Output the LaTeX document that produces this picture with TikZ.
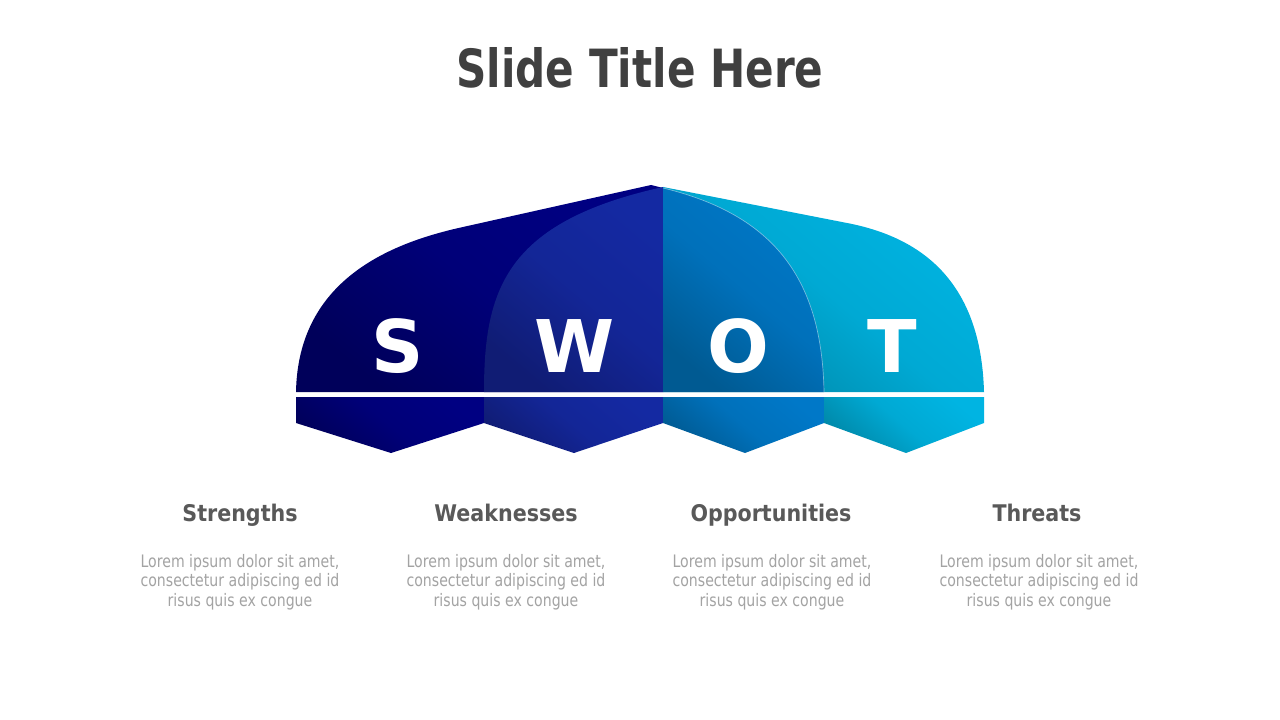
\documentclass[tikz,border=0pt]{standalone}
\usepackage{fontspec}
\setmainfont{DejaVu Sans}
\newfontfamily\titlefont{DejaVu Sans}[FakeStretch=0.8]
\newfontfamily\headfont{DejaVu Sans}[FakeStretch=0.9]
\newfontfamily\bodyfont{DejaVu Sans}[FakeStretch=0.82]
\definecolor{titlegray}{HTML}{404040}
\definecolor{headgray}{HTML}{595959}
\definecolor{bodygray}{HTML}{A3A3A3}
\definecolor{sLight}{HTML}{000082}
\definecolor{sDark}{HTML}{00005A}
\definecolor{wLight}{HTML}{1429A2}
\definecolor{wDark}{HTML}{101C74}
\definecolor{oLight}{HTML}{0078C8}
\definecolor{oDark}{HTML}{005A92}
\definecolor{tLight}{HTML}{00B4E2}
\definecolor{tDark}{HTML}{0088A8}
\tikzset{
  titletext/.style={font=\titlefont\bfseries\fontsize{39.5}{44}\selectfont, text=titlegray, inner sep=0pt, anchor=base},
  headtext/.style={font=\headfont\bfseries\fontsize{17.2}{20}\selectfont, text=headgray, inner sep=0pt, anchor=base},
  bodytext/.style={font=\bodyfont\fontsize{12.9}{14.6}\selectfont, text=bodygray, inner sep=0pt, anchor=base},
  lettertext/.style={font=\bfseries\fontsize{54.5}{60}\selectfont, text=white, inner sep=0pt, anchor=base},
  piece/.style={top color=#1Light, bottom color=#1Dark, middle color=#1Light!75!#1Dark, shading angle=-40, draw=none},
}
\begin{document}
\begin{tikzpicture}[x=0.75pt,y=-0.75pt]
\useasboundingbox (0,0) rectangle (1280,720);
\fill[white] (0,0) rectangle (1280,720);

% upper canopy pieces
\shade[piece=s] (296,392) .. controls (298,280) and (390,243) .. (463,227)
   -- (651,185) -- (663,188) -- (663,392) -- cycle;
\shade[piece=t] (663,187) -- (847,223) .. controls (920,237) and (981,280) .. (984,392)
   -- (663,392) -- cycle;
\shade[piece=w] (484,392) .. controls (484,290) and (505,222) .. (663,187)
   -- (663,392) -- cycle;
\shade[piece=o] (663,188) .. controls (775,215) and (822,280) .. (824,392)
   -- (663,392) -- cycle;
\draw[white, opacity=0.45, line width=0.5pt] (663,188) .. controls (775,215) and (822,280) .. (824,392);

% lower valance pieces
\shade[piece=s] (296,397) -- (484,397) -- (484,423) -- (391,453) -- (296,423) -- cycle;
\shade[piece=w] (484,397) -- (663,397) -- (663,423) -- (574,453) -- (484,423) -- cycle;
\shade[piece=o] (663,397) -- (824,397) -- (824,423) -- (745,453) -- (663,423) -- cycle;
\shade[piece=t] (824,397) -- (984,397) -- (984,423) -- (906,453) -- (824,423) -- cycle;

% letters
\node[lettertext] (ls) at (398,372.5) {S};
\node[lettertext] (lw) at (575,372.5) {W};
\node[lettertext] (lo) at (738,372.5) {O};
\node[lettertext] (lt) at (892,372.5) {T};

% title
\node[titletext] (title) at (640,88) {Slide Title Here};

% headings
\node[headtext] (hs) at (240,521.7) {Strengths};
\node[headtext] (hw) at (506,521.7) {Weaknesses};
\node[headtext] (ho) at (771,521.7) {Opportunities};
\node[headtext] (ht) at (1037,521.7) {Threats};

% body text
\foreach \cx/\nm in {240/s, 506/w, 772/o, 1039/t}{
  \node[bodytext] (\nm b1) at (\cx,567) {Lorem ipsum dolor sit amet,};
  \node[bodytext] (\nm b2) at (\cx,586.5) {consectetur adipiscing ed id};
  \node[bodytext] (\nm b3) at (\cx,606) {risus quis ex congue};
}
\end{tikzpicture}
\end{document}
